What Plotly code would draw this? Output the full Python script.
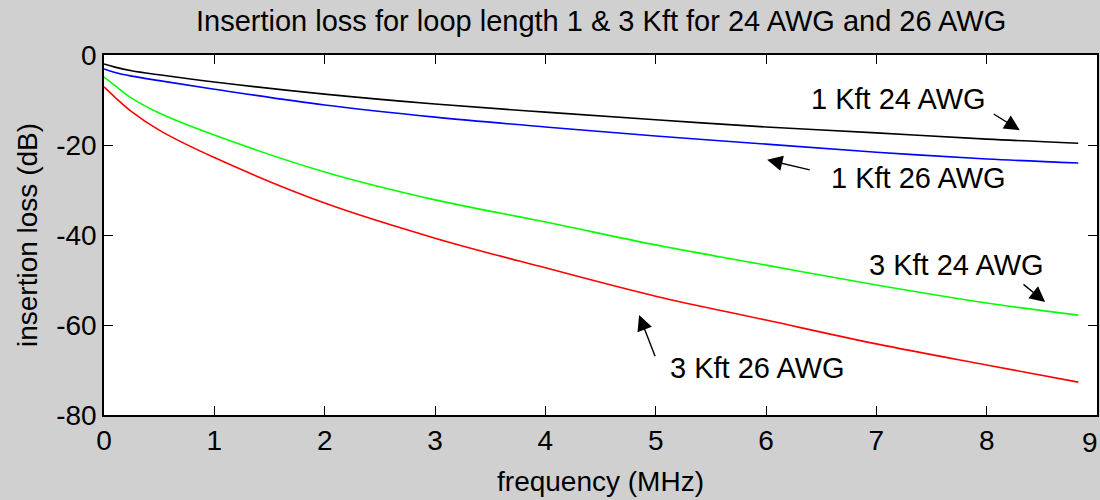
import plotly.graph_objects as go

freq_mhz = [0, 0.1, 0.25, 0.5, 1, 2, 3, 4, 5, 6, 7, 8, 8.83]
loss_1kft_24awg = [-2.0, -2.7, -3.5, -4.4, -6.0, -8.7, -10.9, -12.7, -14.4, -16.0, -17.3, -18.7, -19.6]
loss_1kft_26awg = [-3.1, -3.9, -4.7, -5.7, -7.6, -11.1, -13.8, -16.0, -18.0, -19.8, -21.6, -23.1, -24.0]
loss_3kft_24awg = [-4.9, -6.8, -9.6, -12.9, -17.8, -26.0, -32.2, -37.1, -42.2, -46.7, -51.1, -55.1, -57.8]
loss_3kft_26awg = [-7.1, -9.4, -12.6, -16.7, -22.8, -32.9, -40.7, -47.3, -53.6, -58.9, -64.2, -68.9, -72.7]

series_names = ["1 Kft 24 AWG", "1 Kft 26 AWG", "3 Kft 24 AWG", "3 Kft 26 AWG"]
series_vals = [loss_1kft_24awg, loss_1kft_26awg, loss_3kft_24awg, loss_3kft_26awg]
series_colors = ["#000000", "#0000ff", "#00ff00", "#ff0000"]

x_ticks = [0, 1, 2, 3, 4, 5, 6, 7, 8, 9]
x_tick_text = ["0", "1", "2", "3", "4", "5", "6", "7", "8", "9"]
y_ticks = [-80, -60, -40, -20, 0]
y_tick_text = ["-80", "-60", "-40", "-20", "0"]

title_text = "Insertion loss for loop length 1 & 3 Kft for 24 AWG and 26 AWG"

# label positions (text) and arrows (tail -> tip), in data coordinates
labels = [
    dict(text="1 Kft 24 AWG", x=7.2, y=-9.8, tail=(8.05, -12.9), tip=(8.3, -16.7)),
    dict(text="1 Kft 26 AWG", x=7.38, y=-27.4, tail=(6.41, -25.6), tip=(6.01, -23.3)),
    dict(text="3 Kft 24 AWG", x=7.73, y=-46.6, tail=(8.32, -50.7), tip=(8.53, -54.9)),
    dict(text="3 Kft 26 AWG", x=5.92, y=-69.5, tail=(5.0, -67.3), tip=(4.85, -57.8)),
]

font_family = "Liberation Sans, Arial, sans-serif"
fsize = 28
lsize = 29

fig = go.Figure()
for name, vals, col in zip(series_names, series_vals, series_colors):
    fig.add_trace(go.Scatter(x=freq_mhz, y=vals, mode="lines", name=name,
                             line=dict(color=col, width=1.6, shape="spline", smoothing=1.0)))

annotations = []
for lab in labels:
    annotations.append(dict(text=lab["text"], x=lab["x"], y=lab["y"], xref="x", yref="y",
                            showarrow=False, font=dict(size=lsize, color="#000000", family=font_family)))
    annotations.append(dict(text="", x=lab["tip"][0], y=lab["tip"][1],
                            ax=lab["tail"][0], ay=lab["tail"][1], axref="x", ayref="y",
                            xref="x", yref="y", showarrow=True, arrowhead=2, arrowsize=2.2,
                            arrowwidth=1.4, arrowcolor="#000000", standoff=0, startstandoff=0))

annotations.append(dict(text=title_text, x=0.5, y=1, xref="paper", yref="paper",
                        xanchor="center", yanchor="bottom", yshift=16, showarrow=False,
                        font=dict(size=lsize, color="#000000", family=font_family)))
# the last x tick label, kept just inside the figure's right edge
annotations.append(dict(text=x_tick_text[-1], x=x_ticks[-1], y=0, xref="x", yref="paper",
                        xanchor="right", yanchor="top", xshift=3, yshift=-10, showarrow=False,
                        font=dict(size=fsize, color="#000000", family=font_family)))

fig.update_layout(
    width=1100, height=500,
    paper_bgcolor="#d0d0d0", plot_bgcolor="#ffffff",
    margin=dict(l=104, r=3, t=55, b=85),
    showlegend=False,
    font=dict(family=font_family, size=fsize, color="#000000"),
    annotations=annotations,
)
fig.update_xaxes(range=[0, 9], tickvals=x_ticks, ticktext=x_tick_text, ticks="inside", ticklen=9,
                 tickcolor="#000000", showline=True, linecolor="#000000", linewidth=1.5,
                 mirror="ticks", showgrid=False, zeroline=False, automargin=False,
                 tickfont=dict(size=fsize),
                 title=dict(text="frequency (MHz)", font=dict(size=fsize), standoff=16))
fig.update_yaxes(range=[-80, 0], tickvals=y_ticks, ticktext=y_tick_text, ticks="inside", ticklen=9,
                 tickcolor="#000000", showline=True, linecolor="#000000", linewidth=1.5,
                 mirror="ticks", showgrid=False, zeroline=False, automargin=False,
                 tickfont=dict(size=fsize),
                 title=dict(text="insertion loss (dB)", font=dict(size=fsize), standoff=10))

fig.write_html("out.html", config={"displayModeBar": False},
               post_script="document.body.style.margin='0';document.body.style.background='#d0d0d0';")
